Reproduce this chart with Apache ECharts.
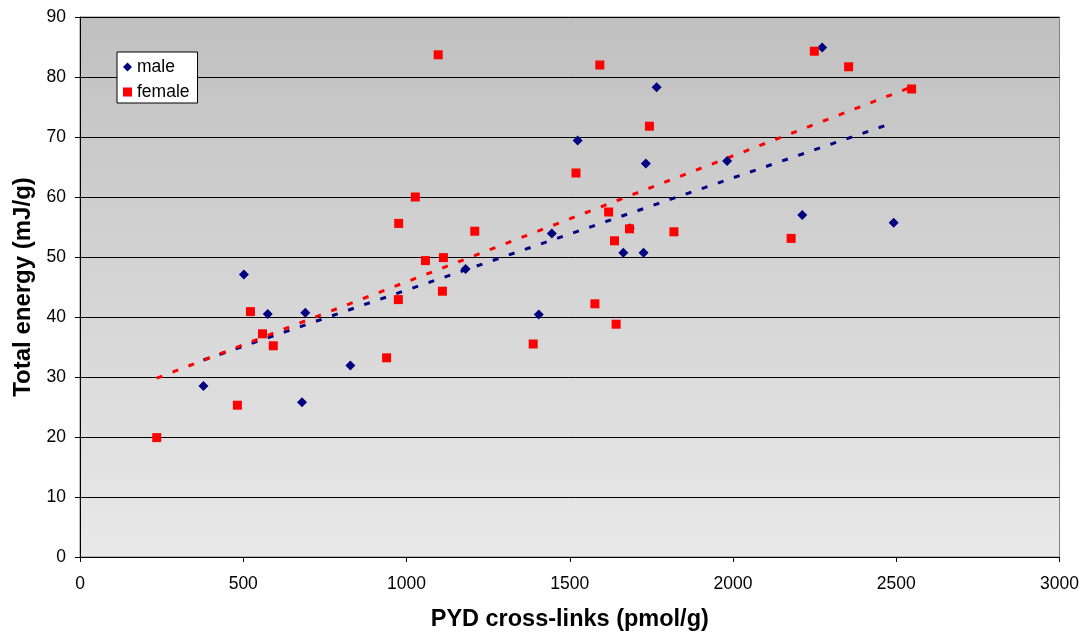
<!DOCTYPE html>
<html>
<head>
<meta charset="utf-8">
<script src="https://cdn.jsdelivr.net/npm/echarts@6/dist/echarts.min.js"></script>
<style>
html,body{margin:0;padding:0;background:#fff;}
#c{width:1082px;height:637px;}
</style>
</head>
<body>
<div id="c"></div>
<script>
const maleX = [378, 502, 575, 690, 680, 828, 1181, 1405, 1445, 1524, 1664, 1726, 1733, 1766, 1684, 1982, 2212, 2273, 2492];
const maleY = [28.5, 47.1, 40.5, 40.7, 25.8, 31.9, 48.0, 40.4, 53.9, 69.4, 50.7, 50.7, 65.6, 78.3, 54.8, 66.0, 57.0, 84.9, 55.7];
const femaleX = [235, 482, 522, 559, 592, 939, 975, 976, 1027, 1058, 1097, 1110, 1113, 1209, 1388, 1519, 1577, 1592, 1619, 1637, 1642, 1683, 1744, 1819, 2178, 2249, 2354, 2547];
const femaleY = [19.9, 25.3, 40.9, 37.2, 35.2, 33.2, 42.9, 55.6, 60.0, 49.4, 83.7, 44.3, 49.9, 54.3, 35.5, 64.0, 42.2, 82.0, 57.5, 52.7, 38.8, 54.7, 71.8, 54.2, 53.1, 84.3, 81.7, 78.0];
const xTicks = [0, 500, 1000, 1500, 2000, 2500, 3000];
const yTicks = [0, 10, 20, 30, 40, 50, 60, 70, 80, 90];

function pairs(xs, ys){ return xs.map((x,i)=>[x, ys[i]]); }
// linear least-squares trendline over each series' x range
function trend(xs, ys){
  const n = xs.length;
  const mx = xs.reduce((a,b)=>a+b,0)/n, my = ys.reduce((a,b)=>a+b,0)/n;
  let sxy=0, sxx=0;
  for(let i=0;i<n;i++){ sxy += (xs[i]-mx)*(ys[i]-my); sxx += (xs[i]-mx)*(xs[i]-mx); }
  const b = sxy/sxx, a = my - b*mx;
  const x0 = Math.min(...xs), x1 = Math.max(...xs);
  return [[x0, a+b*x0],[x1, a+b*x1]];
}

const FONT = '"Liberation Sans", Arial, sans-serif';
const chart = echarts.init(document.getElementById('c'));
chart.setOption({
  animation:false,
  textStyle:{fontFamily:FONT},
  grid:{left:80, right:22, top:17, bottom:79, show:true,
    borderColor:'#808080', borderWidth:1,
    backgroundColor:{type:'linear', x:0, y:0, x2:0, y2:1,
      colorStops:[{offset:0,color:'#c0c0c0'},{offset:1,color:'#e9e9e9'}]}},
  legend:{
    orient:'vertical', left:117, top:52,
    data:[{name:'male', icon:'diamond'},{name:'female', icon:'rect'}],
    backgroundColor:'#fff', borderColor:'#000', borderWidth:1,
    padding:[6,8,2,6], itemGap:7, itemWidth:9, itemHeight:9,
    textStyle:{fontFamily:FONT, fontSize:17.5, lineHeight:18, color:'#000'}
  },
  xAxis:{type:'value', min:0, max:3000, interval:500,
    name:'PYD cross-links (pmol/g)', nameLocation:'middle', nameGap:51,
    nameTextStyle:{fontFamily:FONT, fontSize:23.5, fontWeight:'bold', color:'#000'},
    axisLine:{show:true, onZero:false, lineStyle:{color:'#000', width:1}},
    axisTick:{show:true, length:5, lineStyle:{color:'#000'}},
    axisLabel:{fontFamily:FONT, fontSize:17.5, color:'#000', margin:18,
      formatter:v=>xTicks.includes(v)?String(v):''},
    splitLine:{show:false}},
  yAxis:{type:'value', min:0, max:90, interval:10,
    name:'Total energy (mJ/g)', nameLocation:'middle', nameGap:45, nameRotate:90,
    nameTextStyle:{fontFamily:FONT, fontSize:24, fontWeight:'bold', color:'#000'},
    axisLine:{show:true, onZero:false, lineStyle:{color:'#000', width:1}},
    axisTick:{show:true, length:5, lineStyle:{color:'#000'}},
    axisLabel:{fontFamily:FONT, fontSize:17.5, color:'#000', margin:14,
      formatter:v=>yTicks.includes(v)?String(v):''},
    splitLine:{show:true, lineStyle:{color:'#000', width:1}}},
  series:[
    {name:'male trend', type:'line', data:trend(maleX, maleY), showSymbol:false, symbol:'none',
      lineStyle:{color:'#000080', width:3, type:[6,11]}, z:2, silent:true},
    {name:'female trend', type:'line', data:trend(femaleX, femaleY), showSymbol:false, symbol:'none',
      lineStyle:{color:'#ff0000', width:3, type:[6,11]}, z:2, silent:true},
    {name:'male', type:'scatter', symbol:'diamond', symbolSize:10,
      itemStyle:{color:'#000080', opacity:1}, data:pairs(maleX, maleY), z:3},
    {name:'female', type:'scatter', symbol:'rect', symbolSize:9,
      itemStyle:{color:'#ff0000', opacity:1}, data:pairs(femaleX, femaleY), z:4}
  ]
});
</script>
</body>
</html>
